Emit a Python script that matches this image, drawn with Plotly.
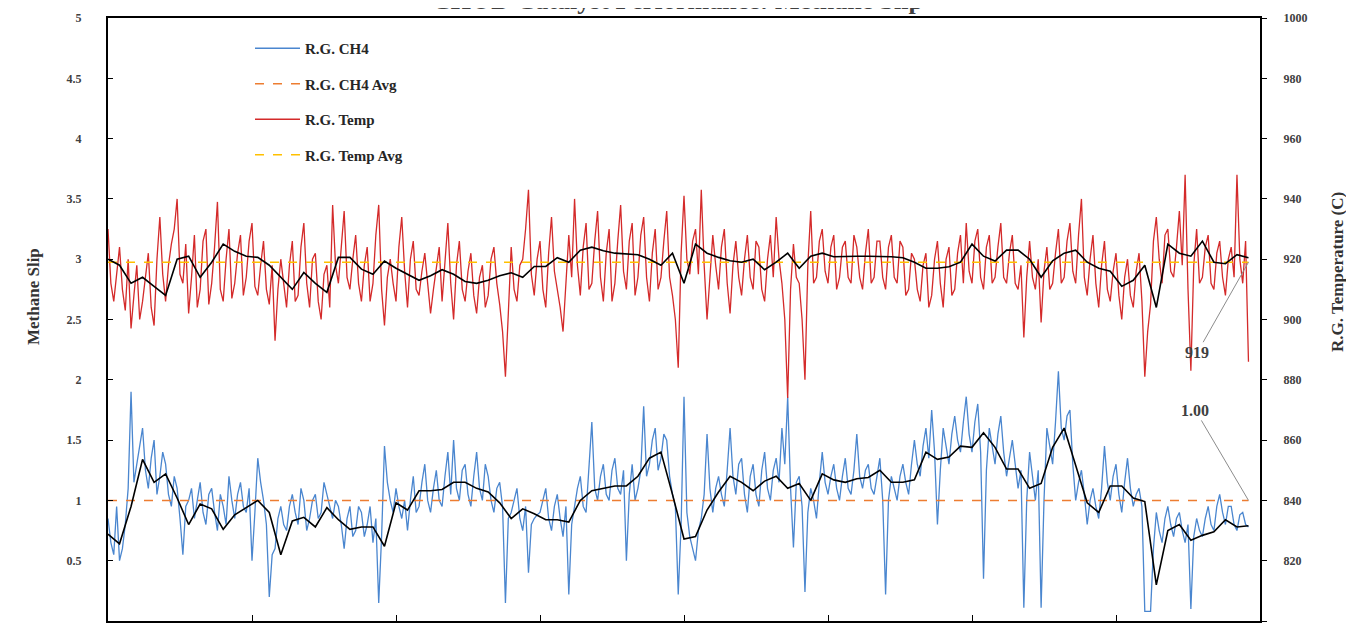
import plotly.graph_objects as go

# ---------------- data ----------------
# raw samples are read every 2 x-units: on-grid samples (0, 4, 8, ...) and
# in-between samples (2, 6, 10, ...); moving averages every 8 x-units
raw_day = list(range(0, 796, 4))
mid_day = list(range(2, 792, 4))
ma_day = list(range(0, 793, 8))

ch4_raw = [
    0.85, 0.55, 0.50, 0.80, 1.90, 1.30, 1.60, 1.10, 1.50, 1.20,
    1.30, 0.95, 1.10, 0.55, 1.00, 0.85, 1.15, 0.80, 1.10, 0.75,
    0.95, 1.20, 0.85, 1.15, 0.90, 0.50, 1.35, 1.00, 0.20, 0.60,
    0.95, 0.75, 1.05, 0.80, 1.00, 0.85, 1.05, 0.90, 1.05, 0.85,
    0.95, 0.60, 0.95, 0.75, 0.90, 0.80, 0.65, 0.15, 1.45, 1.00,
    1.10, 0.85, 0.75, 1.20, 0.95, 1.30, 0.90, 1.25, 0.95, 1.40,
    1.50, 1.00, 1.30, 0.95, 1.40, 1.00, 1.20, 0.90, 1.15, 0.15,
    0.90, 1.10, 0.75, 0.40, 0.85, 0.90, 1.10, 0.75, 1.05, 0.70,
    0.22, 0.95, 1.20, 0.90, 1.65, 1.00, 1.30, 1.00, 1.35, 1.05,
    0.50, 1.30, 1.10, 1.78, 1.30, 1.60, 1.35, 1.50, 1.05, 0.22,
    1.86, 0.70, 0.50, 0.85, 1.55, 0.90, 1.20, 0.95, 1.60, 1.05,
    1.35, 0.90, 1.30, 0.95, 1.40, 1.00, 1.35, 1.60, 1.86, 0.61,
    1.20, 0.24, 1.10, 0.85, 1.40, 1.05, 1.30, 1.00, 1.35, 1.05,
    1.55, 1.10, 1.30, 1.05, 1.35, 0.22, 1.20, 1.00, 1.30, 1.05,
    1.50, 1.20, 1.60, 1.75, 0.80, 1.60, 1.30, 1.70, 1.40, 1.86,
    1.40, 1.80, 0.35, 1.60, 1.30, 1.70, 1.20, 1.50, 1.10, 0.11,
    1.40, 1.00, 0.11, 1.60, 1.30, 2.07, 1.50, 1.75, 1.00, 1.25,
    0.80, 1.10, 0.85, 1.45, 1.00, 1.30, 0.90, 1.35, 0.95, 1.10,
    0.08, 0.08, 0.90, 0.65, 0.95, 0.70, 0.90, 0.65, 0.10, 0.85,
    0.70, 0.95, 0.75, 1.05, 0.80, 0.95, 0.75, 0.90, 0.78,
]

ch4_raw_mid = [
    0.65, 0.95, 0.60, 1.10, 1.15, 1.45, 1.25, 1.35, 1.05, 1.40,
    1.05, 1.20, 0.85, 0.95, 1.10, 1.00, 0.90, 1.05, 0.90, 1.05,
    0.80, 1.00, 1.05, 0.95, 1.10, 0.90, 1.15, 0.80, 0.55, 0.85,
    0.80, 0.95, 0.90, 1.10, 0.75, 1.00, 0.85, 1.15, 0.95, 1.00,
    0.80, 0.85, 0.70, 0.95, 0.70, 0.95, 0.85, 0.70, 1.15, 0.90,
    0.95, 1.00, 1.00, 0.90, 1.15, 1.00, 1.10, 1.00, 1.20, 1.05,
    1.10, 1.25, 1.05, 1.20, 1.10, 1.30, 1.00, 1.10, 0.95, 0.85,
    1.00, 0.85, 0.95, 0.80, 0.88, 1.00, 0.85, 0.95, 0.85, 0.95,
    0.80, 1.10, 0.95, 1.25, 1.10, 1.20, 1.05, 1.25, 1.10, 1.25,
    1.05, 1.00, 1.25, 1.20, 1.50, 1.25, 1.55, 1.20, 0.95, 0.80,
    0.90, 0.60, 0.75, 1.05, 1.10, 1.10, 1.05, 1.25, 1.20, 1.30,
    1.05, 1.20, 1.05, 1.25, 1.10, 1.25, 1.15, 1.30, 1.10, 1.15,
    0.95, 0.90, 1.00, 1.15, 1.15, 1.20, 1.10, 1.20, 1.10, 1.25,
    1.20, 1.25, 1.10, 1.20, 1.00, 1.00, 1.10, 1.20, 1.15, 1.30,
    1.30, 1.45, 1.35, 1.40, 1.25, 1.45, 1.55, 1.50, 1.65, 1.55,
    1.65, 1.40, 1.25, 1.45, 1.55, 1.40, 1.35, 1.30, 1.25, 1.00,
    1.20, 1.25, 1.00, 1.45, 1.65, 1.60, 1.70, 1.30, 1.15, 1.05,
    1.00, 0.95, 1.10, 1.15, 1.20, 1.05, 1.15, 1.10, 1.05, 0.95,
    0.08, 0.60, 0.75, 0.85, 0.80, 0.85, 0.75, 0.80, 0.70, 0.75,
    0.85, 0.80, 0.95, 0.90, 0.95, 0.80, 0.88, 0.80,
]

temp_raw = [
    930, 906, 924, 903, 897, 918, 906, 922, 898, 934,
    906, 925, 940, 912, 902, 928, 910, 930, 912, 939,
    906, 930, 912, 928, 914, 932, 908, 926, 905, 893,
    920, 904, 926, 908, 932, 904, 922, 900, 918, 938,
    912, 936, 910, 928, 906, 924, 912, 938, 898, 920,
    906, 934, 904, 926, 908, 922, 902, 918, 906, 932,
    900, 926, 906, 922, 902, 918, 908, 924, 905, 881,
    924, 906, 920, 943, 908, 926, 904, 934, 910, 896,
    928, 940, 908, 932, 912, 936, 906, 930, 912, 938,
    910, 932, 914, 934, 906, 930, 914, 936, 908, 884,
    941, 915, 930, 943, 900, 928, 910, 930, 902, 926,
    908, 928, 910, 924, 906, 928, 934, 912, 874, 925,
    912, 880, 936, 914, 930, 912, 928, 914, 926, 912,
    924, 910, 930, 914, 926, 910, 928, 912, 924, 910,
    920, 906, 922, 908, 926, 904, 924, 910, 928, 932,
    912, 930, 910, 928, 914, 932, 912, 928, 910, 894,
    926, 910, 899, 924, 912, 930, 914, 932, 912, 940,
    908, 928, 904, 926, 906, 922, 900, 920, 904, 922,
    881, 905, 934, 912, 930, 914, 936, 948, 883, 930,
    914, 928, 910, 926, 908, 924, 948, 912, 886,
]

temp_raw_mid = [
    912, 916, 910, 920, 908, 900, 914, 904, 920, 915,
    918, 930, 915, 925, 914, 904, 926, 905, 924, 910,
    920, 907, 922, 908, 926, 911, 918, 910, 918, 910,
    912, 918, 906, 924, 912, 920, 906, 915, 904, 918,
    924, 914, 920, 912, 918, 906, 928, 910, 914, 912,
    924, 916, 920, 910, 916, 912, 910, 924, 918, 912,
    918, 910, 916, 908, 914, 904, 920, 912, 896, 902,
    910, 918, 930, 915, 920, 910, 922, 916, 904, 914,
    914, 918, 924, 910, 926, 914, 922, 906, 926, 916,
    926, 908, 928, 914, 922, 910, 926, 914, 900, 922,
    920, 926, 915, 918, 914, 918, 924, 912, 918, 914,
    920, 914, 926, 910, 920, 914, 920, 900, 910, 914,
    900, 918, 912, 926, 916, 924, 910, 924, 914, 928,
    914, 922, 912, 926, 914, 924, 914, 926, 908, 922,
    910, 918, 904, 920, 912, 920, 908, 922, 912, 916,
    926, 914, 924, 912, 924, 914, 922, 912, 918, 914,
    914, 920, 916, 910, 922, 912, 926, 916, 928, 914,
    920, 912, 918, 910, 916, 908, 914, 908, 916, 906,
    896, 926, 920, 928, 916, 924, 918, 910, 918, 912,
    924, 912, 922, 914, 920, 914, 920, 926,
]

ch4_ma = [
    0.72, 0.64, 0.95, 1.34, 1.15, 1.22, 1.02, 0.80, 0.97, 0.93,
    0.76, 0.88, 0.94, 1.00, 0.90, 0.55, 0.83, 0.86, 0.78, 0.94,
    0.84, 0.76, 0.78, 0.78, 0.62, 0.98,
    0.92, 1.08, 1.08, 1.09, 1.15, 1.15, 1.10, 1.07, 0.98, 0.85,
    0.93, 0.89, 0.84, 0.84, 0.82, 1.00, 1.08, 1.10, 1.12, 1.12,
    1.20, 1.35, 1.40, 1.05, 0.68,
    0.70, 0.92, 1.07, 1.20, 1.15, 1.08, 1.16, 1.20, 1.10, 1.14,
    1.00, 1.22, 1.17, 1.15, 1.18, 1.19, 1.25, 1.15, 1.15, 1.17,
    1.40, 1.34, 1.36, 1.45, 1.44,
    1.56, 1.44, 1.26, 1.26, 1.10, 1.14, 1.44, 1.60, 1.30, 0.98,
    0.90, 1.12, 1.12, 1.02, 0.99, 0.30, 0.75, 0.80, 0.67, 0.71,
    0.74, 0.84, 0.78, 0.79,
]

temp_ma = [
    920, 918, 912, 914, 911, 908, 920, 921, 914, 919,
    925, 922.6, 921, 920.6, 918, 914, 910, 915.6, 912, 909,
    920.6, 920.6, 916.7, 915, 919.4, 917,
    915, 913, 914.5, 916.5, 915, 912.6, 912, 913, 914.5, 915.5,
    914, 917.6, 917.6, 920.5, 919, 923, 924, 922.8, 922, 921.7,
    921.5, 920, 918, 922, 912,
    925, 922, 920.6, 919.5, 919, 920, 916.5, 919, 922, 917,
    921, 922, 920.8, 921, 921, 921, 921, 920.8, 920.5, 919,
    917, 917, 917.5, 919, 925,
    921, 919.4, 923, 923, 920, 914, 919.5, 922, 923, 919,
    917, 916, 911, 913, 918, 904, 925, 922, 921, 926,
    919, 918.5, 921.5, 920.5,
]

ch4_avg = 1.00
temp_avg = 919

assert len(ch4_raw) == len(raw_day) and len(temp_raw) == len(raw_day)
assert len(ch4_raw_mid) == len(mid_day) and len(temp_raw_mid) == len(mid_day)
assert len(ch4_ma) == len(ma_day) and len(temp_ma) == len(ma_day)


def merge(on_x, on_y, mid_x, mid_y):
    pts = sorted(list(zip(on_x, on_y)) + list(zip(mid_x, mid_y)))
    return [p[0] for p in pts], [p[1] for p in pts]


ch4_x, ch4_y = merge(raw_day, ch4_raw, mid_day, ch4_raw_mid)
temp_x, temp_y = merge(raw_day, temp_raw, mid_day, temp_raw_mid)

# ---------------- styling ----------------
SERIF = "Liberation Serif, DejaVu Serif, serif"
TXT = "#404040"
BLUE = "#4a86cf"
RED = "#d42a2a"
ORANGE = "#ed7d31"
YELLOW = "#ffc000"

fig = go.Figure()

fig.add_trace(go.Scatter(x=ch4_x, y=ch4_y, mode="lines", name="R.G. CH4",
                         line=dict(color=BLUE, width=1.3), legendrank=1,
                         legendgroup="a"))
fig.add_trace(go.Scatter(x=[raw_day[0], raw_day[-1]], y=[ch4_avg, ch4_avg],
                         mode="lines", name="R.G. CH4 Avg",
                         line=dict(color=ORANGE, width=1.5, dash="dash"),
                         legendrank=2, legendgroup="b"))
fig.add_trace(go.Scatter(x=ma_day, y=ch4_ma, mode="lines", showlegend=False,
                         line=dict(color="black", width=1.6)))

fig.add_trace(go.Scatter(x=temp_x, y=temp_y, mode="lines", name="R.G. Temp",
                         line=dict(color=RED, width=1.3), yaxis="y2",
                         legendrank=3, legendgroup="c"))
fig.add_trace(go.Scatter(x=[raw_day[0], raw_day[-1]], y=[temp_avg, temp_avg],
                         mode="lines", name="R.G. Temp Avg", yaxis="y2",
                         line=dict(color=YELLOW, width=1.5, dash="dash"),
                         legendrank=4, legendgroup="d"))
fig.add_trace(go.Scatter(x=ma_day, y=temp_ma, mode="lines", showlegend=False,
                         yaxis="y2", line=dict(color="black", width=1.6)))

tickfont = dict(family=SERIF, size=12, color=TXT, weight="bold")

# the page adds an 8px body margin, so the figure is 8px smaller
fig.update_layout(
    width=1346, height=617,
    margin=dict(l=100, r=94, t=10, b=4),
    paper_bgcolor="white", plot_bgcolor="white",
    showlegend=True,
    legend=dict(x=(250 - 108) / 1152, y=(613 - 24) / 603, xanchor="left",
                yanchor="top", yref="paper",
                bgcolor="rgba(0,0,0,0)", borderwidth=0,
                font=dict(family=SERIF, size=15, color="#262626", weight="bold"),
                itemwidth=45, tracegroupgap=13, traceorder="grouped"),
    xaxis=dict(range=[0, 800], dtick=100, showticklabels=False,
               ticks="inside", ticklen=6, tickcolor="black",
               showline=True, linecolor="black", linewidth=2, mirror=True,
               showgrid=False, zeroline=False),
    yaxis=dict(range=[0, 5], dtick=0.5, ticks="inside", ticklen=5,
               tickcolor="black", showline=True, linecolor="black",
               linewidth=2, showgrid=False, zeroline=False,
               tickfont=tickfont, ticklabelstandoff=22),
    yaxis2=dict(range=[800, 1000], dtick=20, overlaying="y", side="right",
                ticks="outside", ticklen=5, tickcolor="black",
                showline=True, linecolor="black", linewidth=2,
                showgrid=False, zeroline=False, tickfont=tickfont,
                ticklabelstandoff=14),
)

axis_title_font = dict(family=SERIF, size=17, color="#333333", weight="bold")
fig.add_annotation(text="Methane Slip", xref="paper", yref="paper",
                   x=(33 - 108) / 1152, y=(621 - 297) / 603, textangle=-90,
                   showarrow=False, xanchor="center", yanchor="middle",
                   font=axis_title_font)
fig.add_annotation(text="R.G. Temperature (C)", xref="paper", yref="paper",
                   x=(1337 - 108) / 1152, y=(621 - 272) / 603, textangle=-90,
                   showarrow=False, xanchor="center", yanchor="middle",
                   font=axis_title_font)

# title, cut off at the top edge as in the reference
fig.add_annotation(text="CHOD Catalyst Performance: Methane Slip",
                   xref="paper", yref="paper", x=0.494, y=1,
                   xanchor="center", yanchor="bottom", yshift=1,
                   showarrow=False,
                   font=dict(family=SERIF, size=26, color=TXT, weight="bold"))

# data labels on the last point of the average lines
fig.add_annotation(x=raw_day[-1], y=temp_avg, xref="x", yref="y2",
                   text=f"{temp_avg:.0f}", showarrow=True, arrowhead=0,
                   arrowwidth=1, arrowcolor="#8c8c8c", ax=-51, ay=90,
                   font=dict(family=SERIF, size=16, color=TXT, weight="bold"))
fig.add_annotation(x=raw_day[-1], y=ch4_avg, xref="x", yref="y",
                   text=f"{ch4_avg:.2f}", showarrow=True, arrowhead=0,
                   arrowwidth=1, arrowcolor="#8c8c8c", ax=-53, ay=-90,
                   font=dict(family=SERIF, size=16, color=TXT, weight="bold"))

fig.write_html("out.html")
